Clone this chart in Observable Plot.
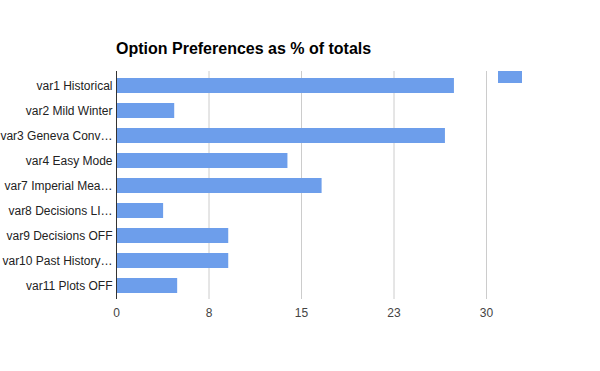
<!DOCTYPE html>
<html>
<head>
<meta charset="utf-8">
<script src="https://cdn.jsdelivr.net/npm/d3@7"></script>
<script src="https://cdn.jsdelivr.net/npm/@observablehq/plot@0.6"></script>
<style>
  html, body { margin: 0; padding: 0; background: #fff; }
  #wrap { position: relative; width: 600px; height: 371px; font-family: "Liberation Sans", Arial, sans-serif; }
  #title { height: 60px; box-sizing: border-box; padding: 40px 0 0 116px; font-size: 16px; font-weight: bold; color: #000; line-height: 17px; white-space: nowrap; overflow: hidden; }
  #legend { position: absolute; left: 498px; top: 71px; width: 24px; height: 12px; background: #6d9eeb; }
  svg { display: block; }
</style>
</head>
<body>
<div id="wrap">
  <div id="title">Option Preferences as % of totals</div>
  <div id="chart"></div>
  <div id="legend"></div>
</div>
<script>
const categories = [
  "var1 Historical",
  "var2 Mild Winter",
  "var3 Geneva Conv…",
  "var4 Easy Mode",
  "var7 Imperial Mea…",
  "var8 Decisions LI…",
  "var9 Decisions OFF",
  "var10 Past History…",
  "var11 Plots OFF"
];
const values = [27.4, 4.72, 26.67, 13.9, 16.67, 3.82, 9.1, 9.1, 4.96];
const xTicks = [0, 7.5, 15, 22.5, 30];
const xTickLabels = ["0", "8", "15", "23", "30"];

const data = categories.map((c, i) => ({ name: c, value: values[i] }));
const barColor = "#6d9eeb";

const chart = Plot.plot({
  width: 600,
  height: 311,
  marginLeft: 116,
  marginRight: 114,
  marginTop: 11,
  marginBottom: 72,
  style: { fontFamily: "Liberation Sans, Arial, sans-serif", fontSize: "12px", background: "#fff" },
  x: { domain: [0, 30] },
  y: { domain: categories, paddingInner: 0.42, paddingOuter: 0.22 },
  marks: [
    Plot.ruleX(xTicks.slice(1), { stroke: "#cccccc", strokeWidth: 1 }),
    Plot.barX(data, { x: "value", y: "name", fill: barColor }),
    Plot.ruleX([0], { stroke: "#333333", strokeWidth: 1 }),
    Plot.axisY({ tickSize: 0, tickPadding: 4, fontSize: 12, fill: "#222", label: null }),
    Plot.axisX({ ticks: xTicks, tickFormat: (d) => xTickLabels[xTicks.indexOf(d)], tickSize: 0, tickPadding: 9, fontSize: 12, fill: "#444", label: null })
  ]
});
document.getElementById("chart").appendChild(chart);
</script>
</body>
</html>
